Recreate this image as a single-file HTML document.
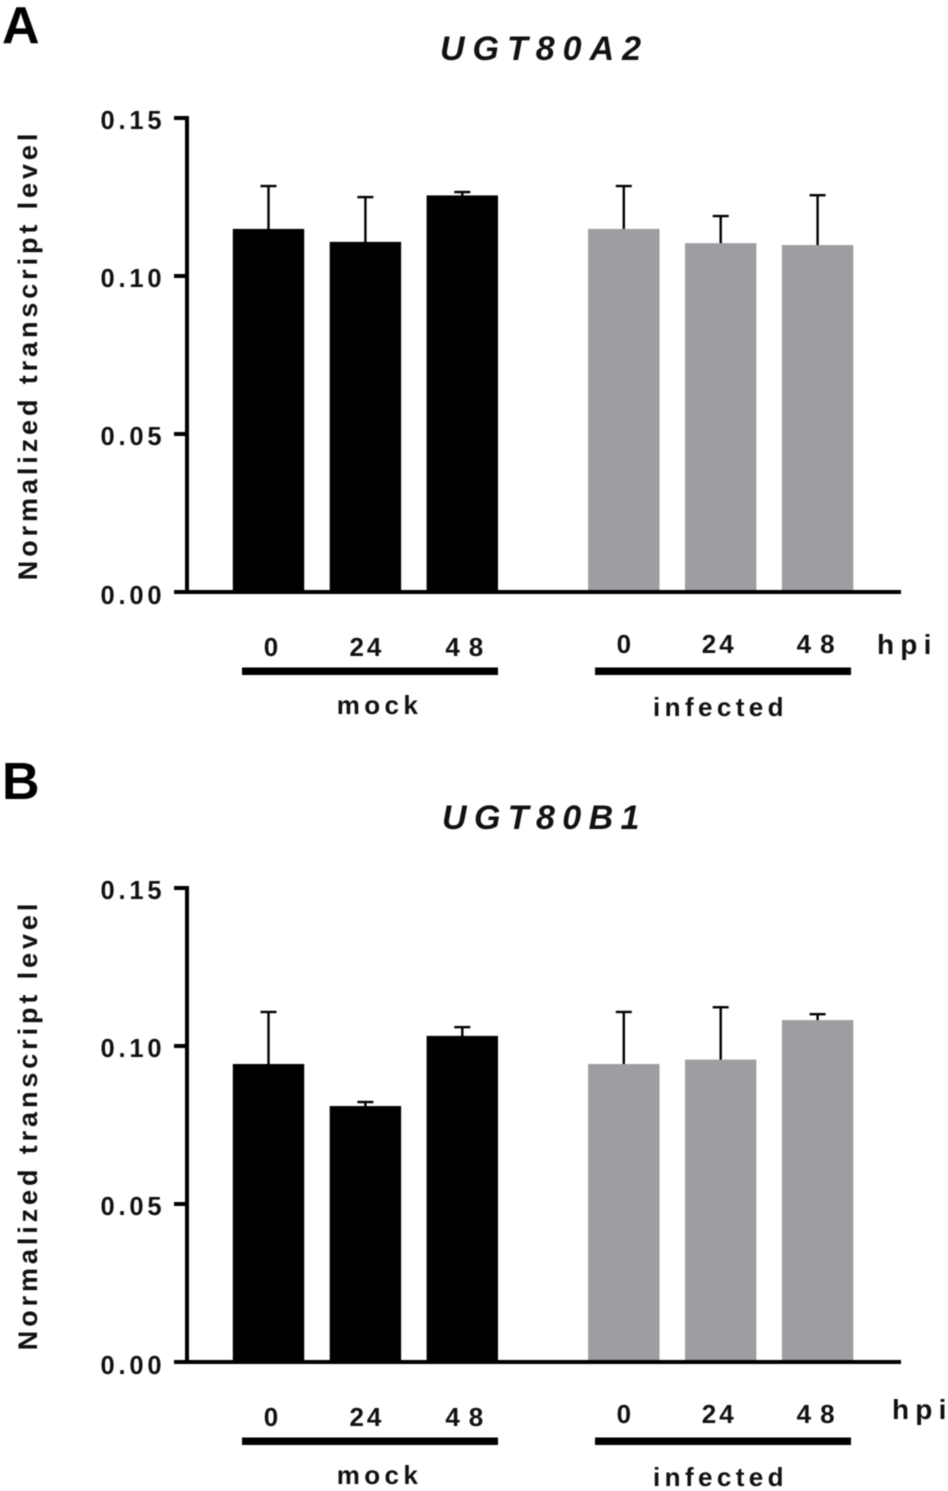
<!DOCTYPE html>
<html lang="en">
<head>
<meta charset="utf-8">
<title>UGT80A2 and UGT80B1 transcript levels</title>
<style>
html,body{margin:0;padding:0;background:#fff;}
svg{display:block;filter:blur(0.4px);}
text{font-family:"Liberation Sans",Arial,sans-serif;font-weight:700;fill:#111;}
.panel{font-size:52px;fill:#000;}
.title{font-size:34px;font-style:italic;letter-spacing:8px;}
.ytitle{font-size:27px;letter-spacing:3.9px;}
.tick{font-size:25.5px;letter-spacing:3.8px;}
.cat{font-size:26px;}
.group{font-size:26px;letter-spacing:4.4px;}
.hpi{font-size:28px;letter-spacing:6.2px;}
</style>
</head>
<body>
<svg id="figure" width="948" height="1491" viewBox="0 0 948 1491" xmlns="http://www.w3.org/2000/svg">
  <g id="chart-a">
    <text class="panel" x="2" y="43">A</text>
    <text class="title" x="440" y="60">UGT80A2</text>
    <text class="ytitle" transform="translate(37 355) rotate(-90)" text-anchor="middle">Normalized transcript level</text>
    <text class="hpi" x="877" y="654">hpi</text>
  </g>
  <g id="chart-b">
    <text class="panel" x="2" y="799">B</text>
    <text class="title" x="442" y="829" style="letter-spacing:7.4px">UGT80B1</text>
    <text class="ytitle" transform="translate(37 1125) rotate(-90)" text-anchor="middle">Normalized transcript level</text>
    <text class="hpi" x="892" y="1419">hpi</text>
  </g>
</svg>
<script>
const categories = ["0", "24", "48", "0", "24", "48"];
const groups = ["mock", "infected"];
const yTicks = [0, 0.05, 0.10, 0.15];
const yTickLabels = ["0.00", "0.05", "0.10", "0.15"];
const ugt80a2Values = [0.1149, 0.1108, 0.1255, 0.1149, 0.1104, 0.1098];
const ugt80a2Upper = [0.1285, 0.1250, 0.1266, 0.1285, 0.1190, 0.1256];
const ugt80b1Values = [0.0943, 0.0810, 0.1032, 0.0943, 0.0957, 0.1082];
const ugt80b1Upper = [0.1108, 0.0823, 0.1060, 0.1108, 0.1123, 0.1101];

const SVG_NS = "http://www.w3.org/2000/svg";
const MOCK_COLOR = "#000000";
const INFECTED_COLOR = "#9e9ea2";

function xScale(i) {
  return 268.5 + i * 96.9 + (i >= groups.length + 1 ? 64.6 : 0);
}
function makeYScale(baseY) {
  return function (v) { return baseY - (v / 0.15) * 474; };
}
function addRect(parent, x, y, w, h, fill, name) {
  const el = document.createElementNS(SVG_NS, "rect");
  el.setAttribute("x", x);
  el.setAttribute("y", y);
  el.setAttribute("width", w);
  el.setAttribute("height", h);
  el.setAttribute("fill", fill);
  
  
  parent.appendChild(el);
  return el;
}
function addText(parent, x, y, str, cls, anchor, name, spacing) {
  const el = document.createElementNS(SVG_NS, "text");
  el.setAttribute("x", x);
  el.setAttribute("y", y);
  el.setAttribute("class", cls);
  el.setAttribute("text-anchor", anchor);
  if (spacing) el.style.letterSpacing = spacing + "px";
  el.textContent = str;
  
  
  parent.appendChild(el);
  return el;
}
function drawChart(rootId, suffix, baseY, values, upper, layout) {
  const root = document.getElementById(rootId);
  const y = makeYScale(baseY);
  values.forEach(function (v, i) {
    const cx = xScale(i);
    const color = i < 3 ? MOCK_COLOR : INFECTED_COLOR;
    const group = i < 3 ? groups[0] : groups[1];
    addRect(root, cx - 8, y(upper[i]) - 1.1, 16, 2.4, "#000", "error-cap-" + group + "-" + categories[i] + "-" + suffix);
    addRect(root, cx - 1.2, y(upper[i]), 2.4, y(v) - y(upper[i]) + 1, "#000", "error-bar-" + group + "-" + categories[i] + "-" + suffix);
    addRect(root, cx - 35.7, y(v), 71.4, baseY - y(v), color, "bar-" + group + "-" + categories[i] + "-" + suffix);
    const nudge = [2.5, 0, 2, 0, -3, -2][i];
    const wide = categories[i] === "48";
    const labelY = baseY + (i < 3 ? layout.mockCatDy : layout.infCatDy);
    addText(root, cx + nudge + (wide ? 4.5 : 1.5), labelY, categories[i], "cat", "middle", "category-label-" + group + "-" + categories[i] + "-" + suffix, wide ? 9 : 3);
  });
  addRect(root, 185, y(0.15) - 2, 4, baseY - y(0.15) + 4, "#000", "y-axis-line-" + suffix);
  addRect(root, 174, baseY - 2, 727, 4, "#000", "x-axis-line-" + suffix);
  yTicks.forEach(function (t, i) {
    addRect(root, 174, y(t) - 2, 12, 4, "#000", "y-tick-" + yTickLabels[i] + "-" + suffix);
    addText(root, 100.5, y(t) + (t === 0 ? 12 : 11), yTickLabels[i], "tick", "start", "y-tick-label-" + yTickLabels[i] + "-" + suffix);
  });
  addRect(root, 242, baseY + layout.barDy, 256, 7.5, "#000", "group-bracket-mock-" + suffix);
  addRect(root, 595, baseY + layout.barDy, 256, 7.5, "#000", "group-bracket-infected-" + suffix);
  addText(root, 379.5, baseY + layout.mockDy, groups[0], "group", "middle", "group-label-mock-" + suffix);
  addText(root, 720.5, baseY + layout.infDy, groups[1], "group", "middle", "group-label-infected-" + suffix);
}
drawChart("chart-a", "a", 592, ugt80a2Values, ugt80a2Upper, { mockCatDy: 64, infCatDy: 61, barDy: 75.5, mockDy: 122, infDy: 124 });
drawChart("chart-b", "b", 1362, ugt80b1Values, ugt80b1Upper, { mockCatDy: 64, infCatDy: 61, barDy: 75.5, mockDy: 122, infDy: 124 });
</script>
</body>
</html>
